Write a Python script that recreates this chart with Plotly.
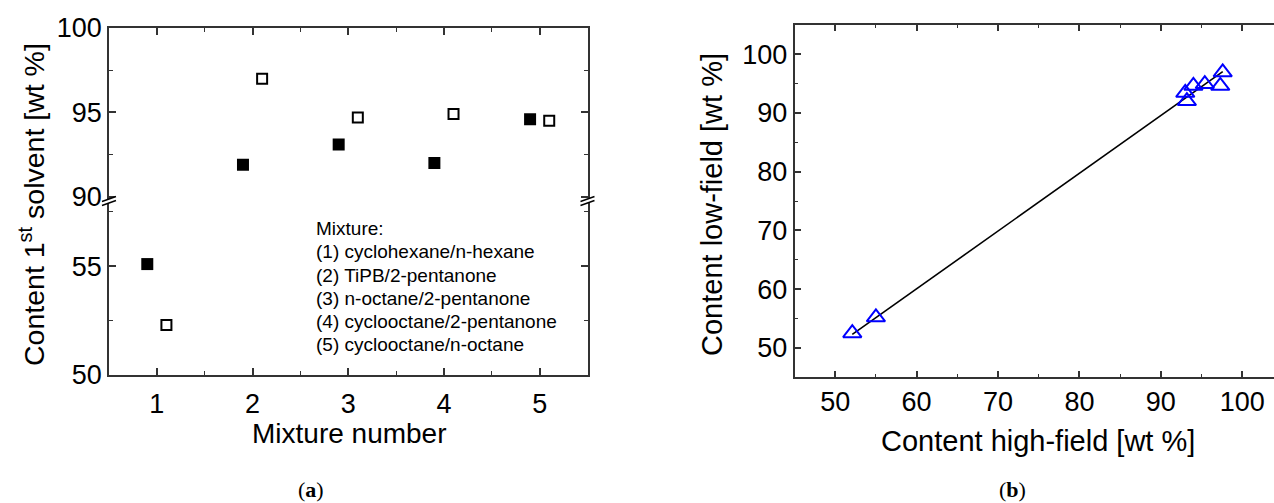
import plotly.graph_objects as go

W, H = 1274, 503

# ---------------- data: panel (a) ----------------
filled_x = [0.9, 1.9, 2.9, 3.9, 4.9]
filled_y = [55.1, 91.9, 93.1, 92.0, 94.6]
open_x = [1.1, 2.1, 3.1, 4.1, 5.1]
open_y = [52.3, 97.0, 94.7, 94.9, 94.5]
legend_lines = [
    "Mixture:",
    "(1) cyclohexane/n-hexane",
    "(2) TiPB/2-pentanone",
    "(3) n-octane/2-pentanone",
    "(4) cyclooctane/2-pentanone",
    "(5) cyclooctane/n-octane",
]

# ---------------- data: panel (b) ----------------
high_field = [52.1, 55.0, 93.0, 93.2, 94.0, 95.4, 97.3, 97.6]
low_field = [52.5, 55.2, 93.4, 92.0, 94.6, 94.9, 94.6, 96.9]
fit_x = [52.1, 97.6]
fit_y = [52.3, 97.0]

# ---------------- helpers ----------------
def px(x):
    return x / W

def py(y):
    return 1 - y / H

FONT = "Liberation Sans, Arial, sans-serif"
LC = "#333333"
TICKF = dict(family=FONT, size=27, color="black")

# panel (a) geometry (pixels)
A_L, A_R = 109, 587.5
A_TOP, A_BRK, A_BOT = 28, 201, 375
# panel (b) geometry
B_L, B_R = 794.5, W
B_TOP, B_BOT = 24.7, 377.3

fig = go.Figure()

def split(xs, ys, hi):
    pts = [(x, y) for x, y in zip(xs, ys) if (y > 75) == hi]
    return [p[0] for p in pts], [p[1] for p in pts]

for hi, xa, ya in [(False, "x", "y"), (True, "x2", "y2")]:
    fx, fy = split(filled_x, filled_y, hi)
    fig.add_trace(go.Scatter(x=fx, y=fy, mode="markers", xaxis=xa, yaxis=ya,
                             marker=dict(symbol="square", size=12, color="black",
                                         line=dict(width=0)),
                             showlegend=False))
    ox, oy = split(open_x, open_y, hi)
    fig.add_trace(go.Scatter(x=ox, y=oy, mode="markers", xaxis=xa, yaxis=ya,
                             marker=dict(symbol="square", size=10, color="white",
                                         line=dict(width=2, color="black")),
                             showlegend=False))

fig.add_trace(go.Scatter(x=fit_x, y=fit_y, mode="lines", xaxis="x3", yaxis="y3",
                         line=dict(color="black", width=1.6), showlegend=False))
fig.add_trace(go.Scatter(x=high_field, y=low_field, mode="markers", xaxis="x3", yaxis="y3",
                         marker=dict(symbol="triangle-up-open", size=16, color="#0000ff",
                                     line=dict(width=2, color="#0000ff")),
                         showlegend=False))

common = dict(showline=True, linecolor=LC, linewidth=1.5, ticks="inside", ticklen=7,
              tickwidth=1.5, tickcolor=LC, showgrid=False, zeroline=False, tickfont=TICKF,
              automargin=False)
MINOR = dict(ticks="inside", ticklen=4, tickwidth=1.2, tickcolor=LC)

fig.update_layout(
    template="none",
    width=W, height=H,
    margin=dict(l=0, r=0, t=0, b=0, pad=0),
    paper_bgcolor="white", plot_bgcolor="white",
    xaxis=dict(domain=[px(A_L), px(A_R)], anchor="y", range=[0.5, 5.5], dtick=1, tick0=0,
               ticklabelstandoff=4, minor=dict(dtick=0.5, **MINOR), **common),
    xaxis2=dict(domain=[px(A_L), px(A_R)], anchor="y2", matches="x", side="top",
                range=[0.5, 5.5], dtick=1, tick0=0, showticklabels=False,
                minor=dict(dtick=0.5, **MINOR), **common),
    yaxis=dict(domain=[py(A_BOT), py(A_BRK)], anchor="x", range=[50, 58], dtick=5, tick0=50,
               mirror="ticks", minor=dict(dtick=2.5, **MINOR), **common),
    yaxis2=dict(domain=[py(A_BRK), py(A_TOP)], anchor="x2", range=[89.75, 100], dtick=5, tick0=90,
                mirror="ticks", minor=dict(dtick=2.5, **MINOR), **common),
    xaxis3=dict(domain=[px(B_L), 1.0], anchor="y3", range=[45, 103.9], dtick=10, tick0=0,
                mirror="ticks", minor=dict(dtick=5, **MINOR), **common),
    yaxis3=dict(domain=[py(B_BOT), py(B_TOP)], anchor="x3", range=[45, 105], dtick=10, tick0=0,
                minor=dict(dtick=5, **MINOR), **common),
)

# axis break marks on panel (a)
shapes = []
for xb in (A_L, A_R):
    y0 = A_BRK
    p1 = (xb - 7, y0 + 0.5); p2 = (xb + 7, y0 - 4.5)
    p3 = (xb + 7, y0 - 0.5); p4 = (xb - 7, y0 + 4.5)
    path = "M {} {} L {} {} L {} {} L {} {} Z".format(
        px(p1[0]), py(p1[1]), px(p2[0]), py(p2[1]), px(p3[0]), py(p3[1]), px(p4[0]), py(p4[1]))
    shapes.append(dict(type="path", path=path, xref="paper", yref="paper",
                       fillcolor="white", line=dict(width=0), layer="above"))
    for a, b in ((p1, p2), (p4, p3)):
        shapes.append(dict(type="line", xref="paper", yref="paper",
                           x0=px(a[0]), y0=py(a[1]), x1=px(b[0]), y1=py(b[1]),
                           line=dict(color="black", width=1.4), layer="above"))
fig.update_layout(shapes=shapes)

ann = []
def text(x, y, s, size, angle=0, xanchor="center", yanchor="middle", family=FONT, align="center"):
    ann.append(dict(x=px(x), y=py(y), xref="paper", yref="paper", text=s, showarrow=False,
                    textangle=angle, xanchor=xanchor, yanchor=yanchor, align=align,
                    font=dict(family=family, size=size, color="black")))

text(32, 205, "Content 1<sup>st</sup> solvent [wt %]", 28.5, angle=-90)
text(349, 433, "Mixture number", 28)
for i, line in enumerate(legend_lines):
    text(313.8, 228.4 + 23.3 * i, line, 19, xanchor="left")
text(712, 205, "Content low-field [wt %]", 29, angle=-90)
text(1038, 441, "Content high-field [wt %]", 29)
SERIF = "Liberation Serif, Times New Roman, serif"
text(311, 489, "(<b>a</b>)", 22, family=SERIF)
text(1012, 489, "(<b>b</b>)", 22, family=SERIF)
fig.update_layout(annotations=ann)

fig.write_html("out.html", config={"displayModeBar": False},
               post_script="document.body.style.margin='0';document.body.style.overflow='hidden';")
